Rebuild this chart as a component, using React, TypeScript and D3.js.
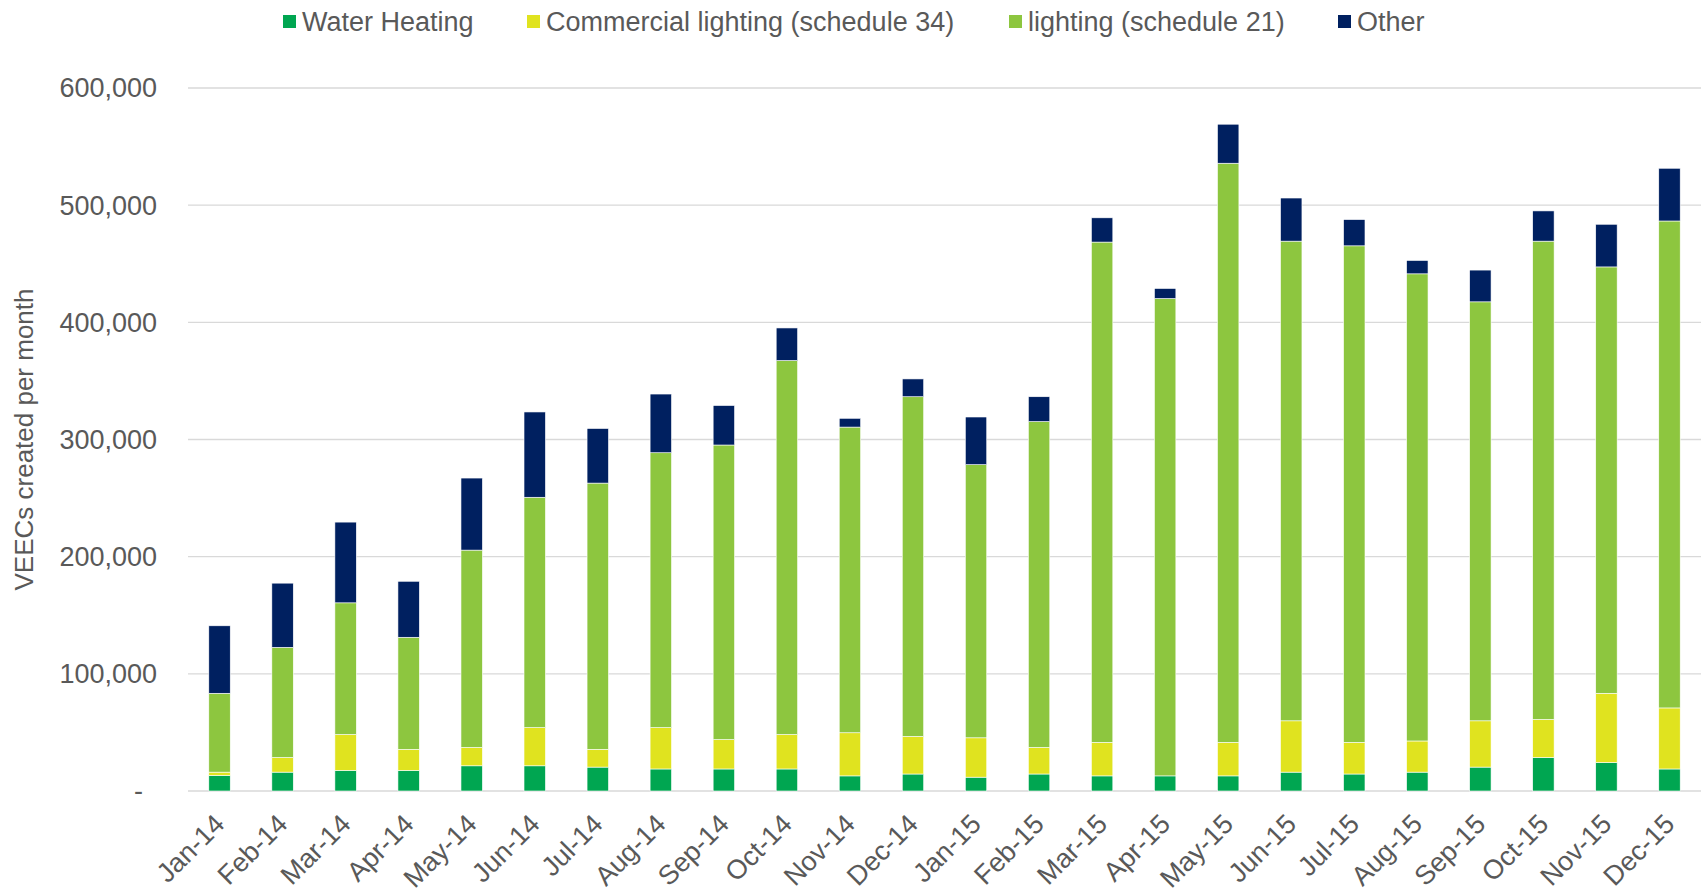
import React, { useEffect, useRef } from "react";
import * as d3 from "d3";

const months = [
  "Jan-14", "Feb-14", "Mar-14", "Apr-14", "May-14", "Jun-14",
  "Jul-14", "Aug-14", "Sep-14", "Oct-14", "Nov-14", "Dec-14",
  "Jan-15", "Feb-15", "Mar-15", "Apr-15", "May-15", "Jun-15",
  "Jul-15", "Aug-15", "Sep-15", "Oct-15", "Nov-15", "Dec-15"
];

const waterHeating = [
  13300, 16100, 17600, 17600, 21500, 21500, 20400, 18800, 18800, 18800, 12900, 14500,
  11800, 14500, 12900, 12900, 12900, 16100, 14500, 16100, 20400, 28600, 24300, 18800
];
const commercialLighting = [
  2800, 12500, 30600, 18000, 15700, 32600, 15200, 35300, 25100, 29400, 36800, 32100,
  33600, 22700, 28600, 0, 28600, 43800, 27000, 26600, 39500, 32500, 59100, 52100
];
const lighting21 = [
  67300, 94000, 112400, 95600, 168400, 196600, 227200, 234600, 251400, 319200, 260900, 289900,
  233100, 278100, 427000, 407400, 494300, 409400, 423800, 398700, 357600, 408200, 363900, 415600
];
const other = [
  57600, 54800, 68900, 47800, 61500, 72800, 46600, 50100, 33700, 27800, 7500, 15200,
  40700, 21200, 20700, 8600, 33300, 36800, 22400, 11400, 27100, 25800, 36400, 45000
];

const seriesKeys = ["water", "commercial", "lighting", "other"];
const seriesNames = [
  "Water Heating",
  "Commercial lighting (schedule 34)",
  "lighting (schedule 21)",
  "Other"
];
const seriesColors = ["#00A651", "#E0E31F", "#8DC63F", "#002060"];
const yTicks = [0, 100000, 200000, 300000, 400000, 500000, 600000];

const WIDTH = 1704;
const HEIGHT = 891;
const FONT = "'Liberation Sans', Arial, sans-serif";
const TEXT_COLOR = "#595959";
const GRID_COLOR = "#D9D9D9";

const App = () => {
  const svgRef = useRef<SVGSVGElement | null>(null);

  useEffect(() => {
    document.body.style.margin = "0";
    if (!svgRef.current) return;
    const svg = d3.select(svgRef.current);
    svg.selectAll("*").remove();

    const rows = months.map((m, i) => ({
      month: m,
      water: waterHeating[i],
      commercial: commercialLighting[i],
      lighting: lighting21[i],
      other: other[i]
    }));
    const stacked = d3.stack<any>().keys(seriesKeys)(rows);

    const x = d3
      .scaleBand()
      .domain(months)
      .range([188, 1701])
      .paddingInner(0.66)
      .paddingOuter(0.33);
    const y = d3.scaleLinear().domain([0, 600000]).range([791, 88]);
    const color = d3.scaleOrdinal<string>().domain(seriesKeys).range(seriesColors);

    // gridlines
    svg
      .append("g")
      .selectAll("line")
      .data(yTicks)
      .join("line")
      .attr("x1", 188)
      .attr("x2", 1701)
      .attr("y1", (d) => y(d))
      .attr("y2", (d) => y(d))
      .attr("stroke", GRID_COLOR)
      .attr("stroke-width", (d) => (d === 0 ? 1.5 : 1.3));

    // y labels
    svg
      .append("g")
      .selectAll("text")
      .data(yTicks)
      .join("text")
      .attr("x", (d) => (d === 0 ? 143 : 157))
      .attr("y", (d) => y(d))
      .attr("dy", "0.35em")
      .attr("text-anchor", "end")
      .attr("font-family", FONT)
      .attr("font-size", 27)
      .attr("fill", TEXT_COLOR)
      .text((d) => (d === 0 ? "-" : d3.format(",")(d)));

    // y title
    svg
      .append("text")
      .attr("transform", `translate(24, ${(y(0) + y(600000)) / 2}) rotate(-90)`)
      .attr("dy", "0.35em")
      .attr("text-anchor", "middle")
      .attr("font-family", FONT)
      .attr("font-size", 26)
      .attr("fill", TEXT_COLOR)
      .text("VEECs created per month");

    // bars
    svg
      .append("g")
      .selectAll("g")
      .data(stacked)
      .join("g")
      .attr("fill", (d) => color(d.key))
      .selectAll("rect")
      .data((d) => d)
      .join("rect")
      .attr("x", (d: any) => x(d.data.month) as number)
      .attr("y", (d) => y(d[1]))
      .attr("width", x.bandwidth())
      .attr("height", (d) => y(d[0]) - y(d[1]))
      .attr("stroke", "#ffffff")
      .attr("stroke-width", 0.6);

    // x labels
    svg
      .append("g")
      .selectAll("text")
      .data(months)
      .join("text")
      .attr(
        "transform",
        (d) => `translate(${(x(d) as number) + x.bandwidth() / 2}, 819) rotate(-45)`
      )
      .attr("dy", "0.35em")
      .attr("text-anchor", "end")
      .attr("font-family", FONT)
      .attr("font-size", 27)
      .attr("fill", TEXT_COLOR)
      .text((d) => d);

    // legend
    const legendX = [302, 546, 1028, 1357];
    const legend = svg
      .append("g")
      .selectAll("g")
      .data(seriesNames)
      .join("g")
      .attr("transform", (d, i) => `translate(${legendX[i]}, 0)`);
    legend
      .append("rect")
      .attr("x", -19)
      .attr("y", 15)
      .attr("width", 13)
      .attr("height", 13)
      .attr("fill", (d, i) => seriesColors[i]);
    legend
      .append("text")
      .attr("x", 0)
      .attr("y", 31)
      .attr("font-family", FONT)
      .attr("font-size", 27)
      .attr("fill", TEXT_COLOR)
      .text((d) => d);
  }, []);

  return (
    <div>
      <svg ref={svgRef} width={WIDTH} height={HEIGHT} style={{ display: "block" }} />
    </div>
  );
};

export default App;
